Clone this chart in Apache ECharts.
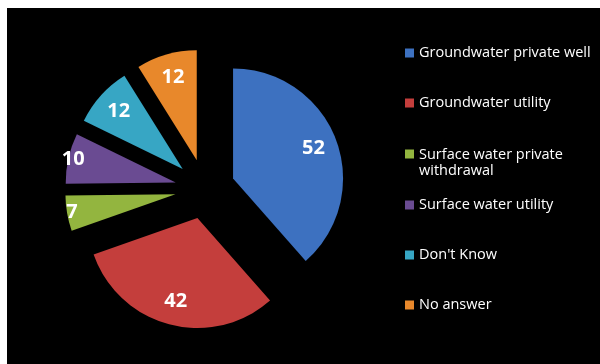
<!DOCTYPE html>
<html>
<head>
<meta charset="utf-8">
<script src="https://cdn.jsdelivr.net/npm/echarts@6/dist/echarts.min.js"></script>
<style>
html,body{margin:0;padding:0;background:#fff;}
#c{width:600px;height:364px;}
</style>
</head>
<body>
<div id="c"></div>
<script>
const categories = ['Groundwater private well', 'Groundwater utility', 'Surface water private withdrawal', 'Surface water utility', "Don't Know", 'No answer'];
const values = [52, 42, 7, 10, 12, 12];
const colors = ['#3d71c0', '#c43e3c', '#93b53f', '#6a4b92', '#37a6c4', '#e8882b'];

const chart = echarts.init(document.getElementById('c'), null, {renderer: 'canvas'});

const pieData = categories.map((name, i) => ({
  name: name,
  value: values[i],
  selected: true,
  itemStyle: {color: colors[i]}
}));
// labels for wide slices sit a bit closer to the centre than those of narrow slices
const labelData = (wide) => categories.map((name, i) => ({
  name: name,
  value: values[i],
  selected: true,
  label: {show: wide ? values[i] >= 12 : values[i] < 12}
}));

function wrapName(name) {
  if (name.length <= 24) return name;
  const words = name.split(' ');
  let l1 = '', l2 = '';
  words.forEach(w => {
    if (!l2 && (l1 + (l1 ? ' ' : '') + w).length <= 22) l1 += (l1 ? ' ' : '') + w;
    else l2 += (l2 ? ' ' : '') + w;
  });
  return '{a|' + l1 + '}\n{b|' + l2 + '}';
}

const font = 'Open Sans';
const labelStyle = {
  show: true, position: 'inside', formatter: '{c}',
  color: '#ffffff', fontFamily: font, fontWeight: 'bold', fontSize: 20
};

function labelSeries(radius, wide) {
  return {
    type: 'pie',
    center: [205, 189],
    radius: [0, radius],
    startAngle: 90,
    clockwise: true,
    silent: true,
    legendHoverLink: false,
    selectedMode: 'multiple',
    selectedOffset: 30,
    itemStyle: {color: 'rgba(0,0,0,0)'},
    emphasis: {disabled: true},
    labelLine: {show: false},
    label: labelStyle,
    data: labelData(wide)
  };
}

chart.setOption({
  backgroundColor: '#ffffff',
  animation: false,
  graphic: [{
    type: 'rect', z: -10, silent: true,
    shape: {x: 7, y: 8, width: 593, height: 356},
    style: {fill: '#000000'}
  }],
  legend: {
    orient: 'vertical',
    left: 405,
    top: 28,
    padding: 0,
    itemGap: 0,
    itemWidth: 9,
    itemHeight: 9,
    icon: 'rect',
    selectedMode: false,
    data: categories,
    formatter: wrapName,
    textStyle: {
      color: '#ffffff', fontFamily: font, fontSize: 14.5, lineHeight: 50,
      rich: {
        a: {color: '#ffffff', fontFamily: font, fontSize: 14.5, lineHeight: 34, verticalAlign: 'bottom'},
        b: {color: '#ffffff', fontFamily: font, fontSize: 14.5, lineHeight: 18}
      }
    }
  },
  series: [{
    type: 'pie',
    center: [205, 189],
    radius: [0, 110],
    startAngle: 90,
    clockwise: true,
    selectedMode: 'multiple',
    selectedOffset: 30,
    label: {show: false},
    labelLine: {show: false},
    emphasis: {disabled: true},
    itemStyle: {borderWidth: 0},
    data: pieData
  },
  labelSeries(166, true),
  labelSeries(204, false)]
});
</script>
</body>
</html>
